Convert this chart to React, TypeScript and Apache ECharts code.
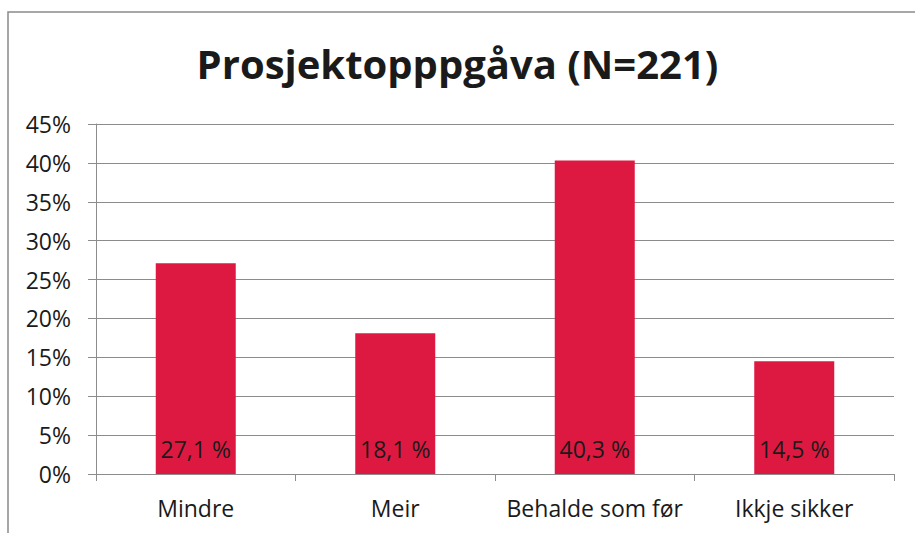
import React, { useEffect, useRef } from "react";
import * as echarts from "echarts";

const categories = ["Mindre", "Meir", "Behalde som før", "Ikkje sikker"];
const values = [27.1, 18.1, 40.3, 14.5];
const titleText = "Prosjektopppgåva (N=221)";

const FONT = "'Open Sans', sans-serif";

export default function App() {
  const ref = useRef<HTMLDivElement>(null);
  useEffect(() => {
    document.body.style.margin = "0";
    const chart = echarts.init(ref.current!, null, { renderer: "svg" });
    chart.setOption({
      animation: false,
      backgroundColor: "#ffffff",
      title: {
        text: titleText,
        left: "center",
        top: 38,
        textStyle: { fontFamily: FONT, fontWeight: "bold", fontSize: 40, color: "#1a1a1a" },
      },
      graphic: [
        {
          type: "rect",
          shape: { x: 8, y: 12, width: 1000, height: 1000 },
          style: { fill: "none", stroke: "#8a8a8a", lineWidth: 1.5 },
          silent: true,
        },
      ],
      grid: { left: 96, right: 21, top: 124, bottom: 59 },
      xAxis: {
        type: "category",
        data: categories,
        axisLine: { lineStyle: { color: "#8c8c8c", width: 1 } },
        axisTick: { show: true, length: 7, lineStyle: { color: "#8c8c8c" } },
        axisLabel: {
          interval: 0,
          hideOverlap: false,
          fontFamily: FONT,
          fontSize: 23,
          color: "#1a1a1a",
          margin: 22,
        },
      },
      yAxis: {
        type: "value",
        min: 0,
        max: 45,
        interval: 5,
        axisLine: { show: true, lineStyle: { color: "#8c8c8c", width: 1 } },
        axisTick: { show: true, length: 8, lineStyle: { color: "#8c8c8c" } },
        splitLine: { lineStyle: { color: "#8c8c8c", width: 1 } },
        axisLabel: {
          fontFamily: FONT,
          fontSize: 23,
          color: "#1a1a1a",
          margin: 25,
          formatter: (v: number) => `${v}%`,
        },
      },
      series: [
        {
          type: "bar",
          data: values,
          barWidth: 80,
          itemStyle: { color: "#DE1941" },
          label: {
            show: true,
            position: "insideBottom",
            distance: 14,
            fontFamily: FONT,
            fontSize: 23,
            color: "#1a1a1a",
            formatter: (p: any) => `${p.value.toFixed(1).replace(".", ",")} %`,
          },
        },
      ],
    });
    return () => chart.dispose();
  }, []);
  return <div ref={ref} style={{ width: 915, height: 533 }} />;
}
